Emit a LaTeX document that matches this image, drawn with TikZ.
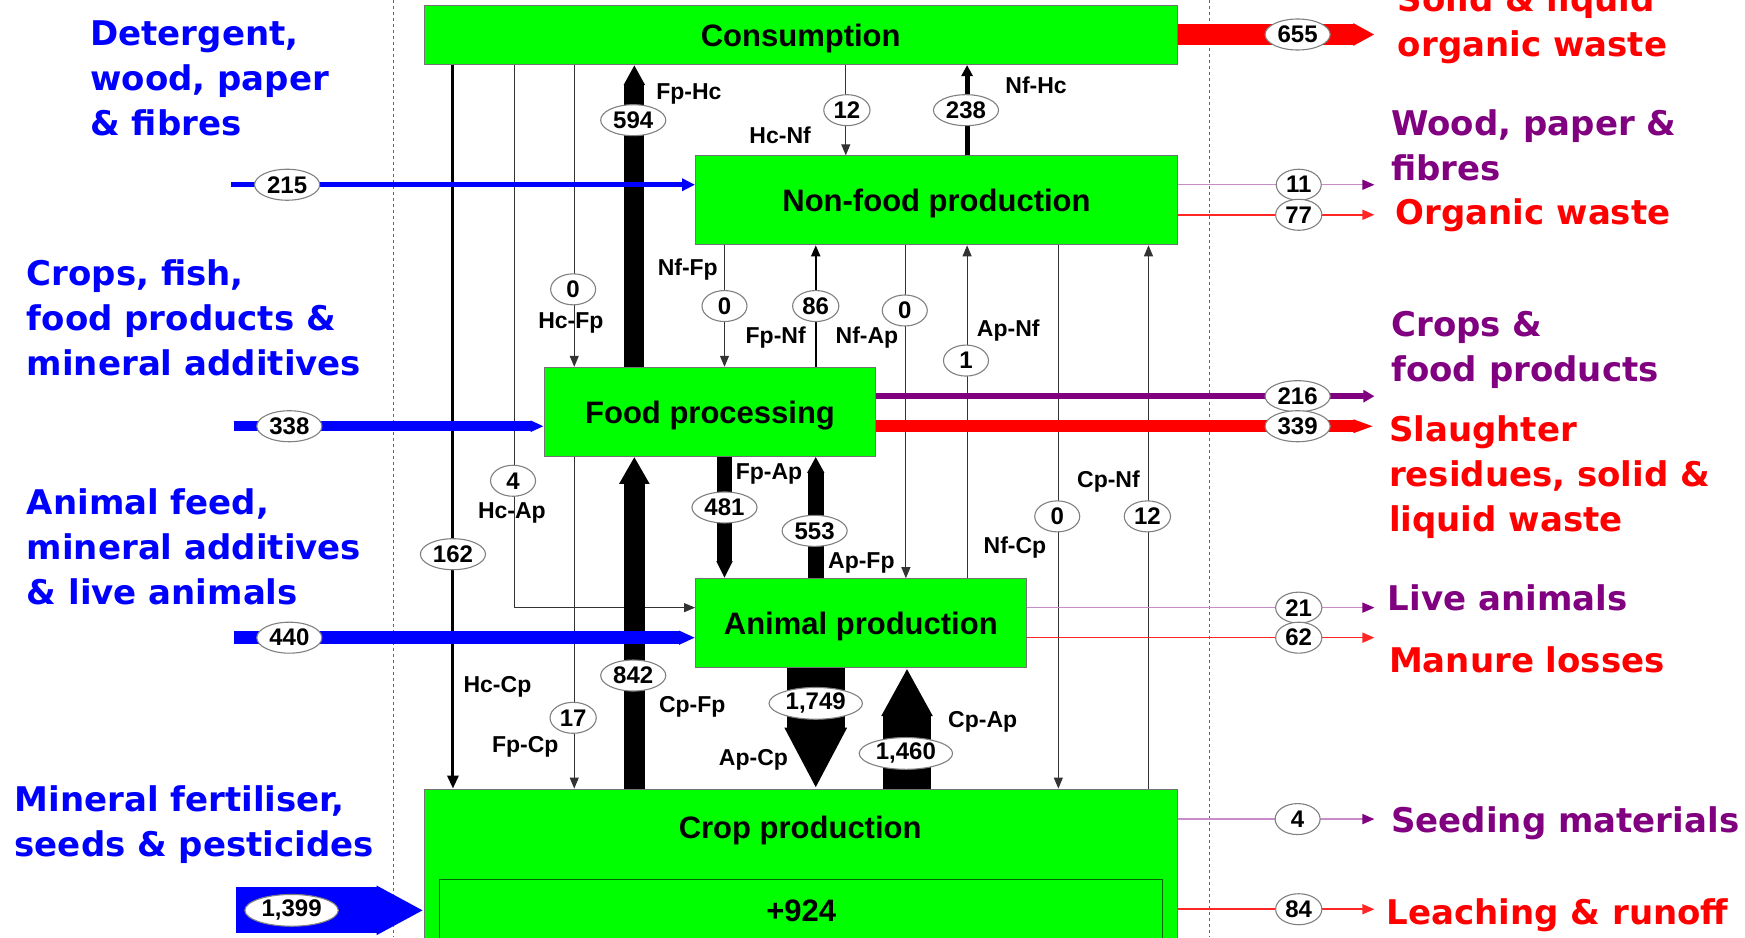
\documentclass[tikz,border=0pt]{standalone}
\usepackage{fontspec}
\setmainfont{Liberation Sans}
\newfontfamily\sidefont{DejaVu Sans}
\usetikzlibrary{arrows.meta, positioning, calc, shapes.geometric}

\definecolor{boxgreen}{RGB}{0,255,0}
\definecolor{inblue}{RGB}{0,0,255}
\definecolor{outred}{RGB}{255,0,0}
\definecolor{outpurple}{RGB}{128,0,128}
\definecolor{lightpurple}{RGB}{200,140,200}

\begin{document}
\begin{tikzpicture}[
    x=1.1129pt, y=-1.1129pt,
    box/.style={draw=black!55, line width=1pt, fill=boxgreen, inner sep=0pt, text depth=0pt,
        font=\fontsize{31}{36}\selectfont\bfseries},
    boxtext/.style={inner sep=0pt, text depth=0pt, font=\fontsize{31}{36}\selectfont\bfseries},
    netbox/.style={draw=green!40!black, line width=1pt, fill=boxgreen, inner sep=0pt, text depth=0pt,
        font=\fontsize{31}{36}\selectfont\bfseries},
    valtag/.style={ellipse, draw=black!50, fill=white, line width=1.1pt, inner xsep=3pt,
        inner ysep=1pt, minimum width=45pt, minimum height=31pt,
        font=\fontsize{24}{26}\selectfont\bfseries},
    flowtag/.style={inner sep=0pt, font=\fontsize{23}{26}\selectfont\bfseries},
    sidetag/.style={anchor=west, align=left, inner sep=0pt,
        font=\sidefont\bfseries\fontsize{34}{45}\selectfont},
    guide/.style={draw=black!60, line width=1pt, dash pattern=on 3pt off 3pt},
    link/.style={draw=black!80, line width=1pt, -{Triangle[length=11pt,width=9pt]}},
    bulk/.style={draw=black},
    outlink/.style={line width=1.5pt, -{Triangle[length=12pt,width=10pt]}}
]
\useasboundingbox (0,0) rectangle (1568,842);

% system border
\draw[guide] (354,0) -- (354,842);
\draw[guide] (1087,0) -- (1087,842);

% compartments
\node[box, minimum width=753.4pt, minimum height=59pt] (cons) at (719.5,31.5) {Consumption};
\node[box, minimum width=481.9pt, minimum height=89pt] (nonfood) at (841.5,180) {Non-food production};
\node[box, minimum width=331.6pt, minimum height=89pt] (foodproc) at (638,370) {Food processing};
\node[box, minimum width=330.5pt, minimum height=89pt] (animal) at (773.5,560) {Animal production};
\node[box, minimum width=753.4pt, minimum height=168pt] (crop) at (719.5,784.5) {};
\node[boxtext] (croptxt) at (719,743) {Crop production};
\node[netbox, minimum width=723.4pt, minimum height=62.3pt] (net) at (720,818) {+924};

% internal flows
\draw[link, draw=black, line width=3pt, -{Triangle[length=13pt,width=11pt]}] (cons.south -| 407,0) -- (crop.north -| 407,0);
\draw[link] (cons.south -| 462,0) |- (animal.west |- 0,546);
\draw[link] (cons.south -| 516,0) -- (foodproc.north -| 516,0);
\draw[link] (foodproc.south -| 516,0) -- (crop.north -| 516,0);
\draw[bulk, line width=20pt, -{Triangle[length=20pt,width=0pt 1]}] (foodproc.north -| 570,0) -- (cons.south -| 570,0);
\draw[bulk, line width=21pt, -{Triangle[length=27pt,width=0pt 1.35]}] (crop.north -| 570,0) -- (foodproc.south -| 570,0);
\draw[link] (cons.south -| 760,0) -- (nonfood.north -| 760,0);
\draw[bulk, line width=5pt, -{Triangle[length=11pt,width=11pt]}] (nonfood.north -| 869,0) -- (cons.south -| 869,0);
\draw[link] (nonfood.south -| 651,0) -- (foodproc.north -| 651,0);
\draw[link, draw=black, line width=2pt] (foodproc.north -| 733,0) -- (nonfood.south -| 733,0);
\draw[link] (nonfood.south -| 814,0) -- (animal.north -| 814,0);
\draw[link] (animal.north -| 869,0) -- (nonfood.south -| 869,0);
\draw[link] (nonfood.south -| 951,0) -- (crop.north -| 951,0);
\draw[link] (crop.north -| 1032,0) -- (nonfood.south -| 1032,0);
\draw[bulk, line width=15pt, -{Triangle[length=17pt,width=0pt 1]}] (foodproc.south -| 651,0) -- (animal.north -| 651,0);
\draw[bulk, line width=16pt, -{Triangle[length=16pt,width=0pt 1]}] (animal.north -| 733,0) -- (foodproc.south -| 733,0);
\draw[bulk, line width=58pt, -{Triangle[length=61pt,width=0pt 1]}] (animal.south -| 733,0) -- (crop.north -| 733,0);
\draw[bulk, line width=48pt, -{Triangle[length=48pt,width=0pt 1]}] (crop.north -| 815,0) -- (animal.south -| 815,0);

% inputs
\coordinate (in215) at (208,166);
\coordinate (in338) at (210,383);
\coordinate (in440) at (210,573);
\coordinate (in1399) at (212,818);
\draw[draw=inblue, line width=5pt, -{Triangle[length=13pt,width=12pt]}] (in215) -- (nonfood.west |- in215);
\draw[draw=inblue, line width=10.5pt, -{Triangle[length=13pt,width=0pt 1]}] (in338) -- (foodproc.west |- in338);
\draw[draw=inblue, line width=13pt, -{Triangle[length=16pt,width=0pt 1]}] (in440) -- (animal.west |- in440);
\draw[draw=inblue, line width=46pt, -{Triangle[length=47pt,width=0pt 1]}] (in1399) -- (crop.west |- in1399);

% outputs
\coordinate (out655) at (1235,31);
\coordinate (out11) at (1235,166);
\coordinate (out77) at (1235,193);
\coordinate (out216) at (1235,356);
\coordinate (out339) at (1235,383);
\coordinate (out21) at (1235,546);
\coordinate (out62) at (1235,573);
\coordinate (out4) at (1235,736);
\coordinate (out84) at (1235,817);
\draw[draw=outred, line width=21pt, -{Triangle[length=21pt,width=0pt 1]}] (cons.east |- out655) -- (out655);
\draw[outlink, draw=lightpurple, -{Triangle[length=12pt,width=10pt,color=outpurple]}] (nonfood.east |- out11) -- (out11);
\draw[outlink, draw=outred!85] (nonfood.east |- out77) -- (out77);
\draw[draw=outpurple, line width=6pt, -{Triangle[length=11pt,width=12pt]}] (foodproc.east |- out216) -- (out216);
\draw[draw=outred, line width=12pt, -{Triangle[length=21pt,width=0pt 1]}] (foodproc.east |- out339) -- (out339);
\draw[outlink, draw=lightpurple, -{Triangle[length=12pt,width=10pt,color=outpurple]}] (animal.east |- out21) -- (out21);
\draw[outlink, draw=outred!85] (animal.east |- out62) -- (out62);
\draw[outlink, draw=lightpurple, -{Triangle[length=12pt,width=10pt,color=outpurple]}] (crop.east |- out4) -- (out4);
\draw[outlink, draw=outred!85] (crop.east |- out84) -- (out84);

% flow values
\node[valtag] (v655) at (1166,31) {655};
\node[valtag] (v594) at (569,108) {594};
\node[valtag] (v12a) at (761,99) {12};
\node[valtag] (v238) at (868,99) {238};
\node[valtag] (v215) at (258,166) {215};
\node[valtag] (v11) at (1167,166) {11};
\node[valtag] (v77) at (1167,193) {77};
\node[valtag] (v0a) at (515,260) {0};
\node[valtag] (v0b) at (651,275) {0};
\node[valtag] (v86) at (733,275) {86};
\node[valtag] (v0c) at (813,279) {0};
\node[valtag] (v1) at (868,324) {1};
\node[valtag] (v338) at (260,383) {338};
\node[valtag] (v216) at (1166,356) {216};
\node[valtag] (v339) at (1166,383) {339};
\node[valtag] (v4a) at (461,432) {4};
\node[valtag] (v162) at (407,498) {162};
\node[valtag] (v481) at (651,456) {481};
\node[valtag] (v553) at (732,477) {553};
\node[valtag] (v0d) at (950,464) {0};
\node[valtag] (v12b) at (1031,464) {12};
\node[valtag] (v21) at (1167,546) {21};
\node[valtag] (v62) at (1167,573) {62};
\node[valtag] (v440) at (260,573) {440};
\node[valtag] (v842) at (569,607) {842};
\node[valtag] (v1749) at (733,632) {1,749};
\node[valtag] (v17) at (515,645) {17};
\node[valtag] (v1460) at (814,677) {1,460};
\node[valtag] (v4b) at (1166,736) {4};
\node[valtag] (v84) at (1167,817) {84};
\node[valtag] (v1399) at (262,818) {1,399};

% flow names
\node[flowtag] (tFpHc) at (619,84) {Fp-Hc};
\node[flowtag] (tHcNf) at (701,122) {Hc-Nf};
\node[flowtag] (tNfHc) at (931,77) {Nf-Hc};
\node[flowtag] (tNfFp) at (618,242) {Nf-Fp};
\node[flowtag] (tHcFp) at (513,290) {Hc-Fp};
\node[flowtag] (tFpNf) at (697,303) {Fp-Nf};
\node[flowtag] (tNfAp) at (779,303) {Nf-Ap};
\node[flowtag] (tApNf) at (906,297) {Ap-Nf};
\node[flowtag] (tHcAp) at (460,461) {Hc-Ap};
\node[flowtag] (tFpAp) at (691,426) {Fp-Ap};
\node[flowtag] (tApFp) at (774,506) {Ap-Fp};
\node[flowtag] (tCpNf) at (996,433) {Cp-Nf};
\node[flowtag] (tNfCp) at (912,492) {Nf-Cp};
\node[flowtag] (tHcCp) at (447,617) {Hc-Cp};
\node[flowtag] (tCpFp) at (622,635) {Cp-Fp};
\node[flowtag] (tFpCp) at (472,671) {Fp-Cp};
\node[flowtag] (tApCp) at (677,683) {Ap-Cp};
\node[flowtag] (tCpAp) at (883,649) {Cp-Ap};

% external sources and sinks
\node[sidetag, text=inblue] (sDet) at (81,70) {Detergent,\\wood, paper\\\& fibres};
\node[sidetag, text=inblue] (sCrops) at (24,286) {Crops, fish,\\food products \&\\mineral additives};
\node[sidetag, text=inblue] (sFeed) at (24,491) {Animal feed,\\mineral additives\\\& live animals};
\node[sidetag, text=inblue] (sFert) at (13,741) {Mineral fertiliser,\\seeds \& pesticides};
\node[sidetag, text=outred] (sSolid) at (1256,22) {Solid \& liquid\\organic waste};
\node[sidetag, text=outpurple] (sWood) at (1250,131) {Wood, paper \&\\fibres};
\node[sidetag, text=outred] (sOrg) at (1254,193) {Organic waste};
\node[sidetag, text=outpurple] (sFood) at (1250,314) {Crops \&\\food products};
\node[sidetag, text=outred] (sSlaught) at (1248,429) {Slaughter\\residues, solid \&\\liquid waste};
\node[sidetag, text=outpurple] (sLive) at (1247,537) {Live animals};
\node[sidetag, text=outred] (sManure) at (1248,593) {Manure losses};
\node[sidetag, text=outpurple] (sSeed) at (1250,740) {Seeding materials};
\node[sidetag, text=outred] (sLeach) at (1246,822) {Leaching \& runoff};
\end{tikzpicture}
\end{document}
